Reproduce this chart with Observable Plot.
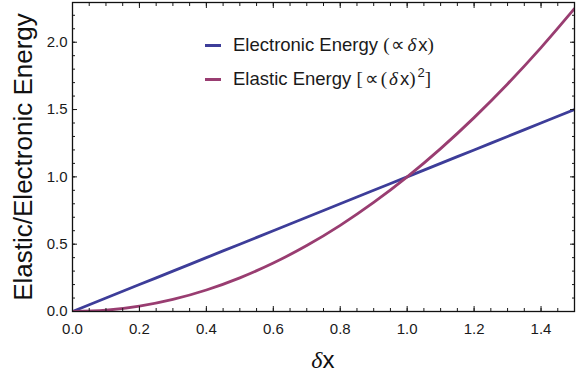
<!DOCTYPE html>
<html><head><meta charset="utf-8">
<script src="https://cdn.jsdelivr.net/npm/d3@7"></script>
<script src="https://cdn.jsdelivr.net/npm/@observablehq/plot@0.6"></script>
<style>
body{margin:0;background:#fff;}
#wrap{position:relative;width:576px;height:382px;font-family:"Liberation Sans",Arial,sans-serif;color:#1a1a1a;}
.sw{position:absolute;left:205px;width:16px;height:3px;}
.lt{position:absolute;left:233px;font-size:18.5px;line-height:18px;white-space:nowrap;}
.ser{font-family:"Liberation Serif","Times New Roman",serif;font-size:19px;letter-spacing:2px;}
.it{font-style:italic;}
</style></head><body><div id="wrap"></div>
<script>
// data
const dx = [0, 0.1, 0.2, 0.3, 0.4, 0.5, 0.6, 0.7, 0.8, 0.9, 1.0, 1.1, 1.2, 1.3, 1.4, 1.5];
const electronic = [0, 0.1, 0.2, 0.3, 0.4, 0.5, 0.6, 0.7, 0.8, 0.9, 1.0, 1.1, 1.2, 1.3, 1.4, 1.5];
const elastic = [0, 0.01, 0.04, 0.09, 0.16, 0.25, 0.36, 0.49, 0.64, 0.81, 1.0, 1.21, 1.44, 1.69, 1.96, 2.25];
const seriesNames = ["Electronic Energy", "Elastic Energy"];
const seriesColors = ["#3d3d99", "#993d71"];
const xMajor = [0, 0.2, 0.4, 0.6, 0.8, 1.0, 1.2, 1.4];
const xMinor = d3.range(0, 31).map(i => i * 0.05);
const yMajor = [0, 0.5, 1.0, 1.5, 2.0];
const yMinor = d3.range(0, 23).map(i => i * 0.1);
const yLabel = "Elastic/Electronic Energy";

const rows = [];
dx.forEach((x, i) => {
  rows.push({x, y: electronic[i], s: seriesNames[0]});
  rows.push({x, y: elastic[i], s: seriesNames[1]});
});

const font = "Liberation Sans, Arial, sans-serif";
const plot = Plot.plot({
  width: 576, height: 382,
  marginTop: 2, marginLeft: 72, marginRight: 2, marginBottom: 71,
  style: {fontFamily: font, color: "#1a1a1a", background: "white", overflow: "visible"},
  x: {domain: [0, 1.5]},
  y: {domain: [0, 2.295]},
  color: {domain: seriesNames, range: seriesColors},
  marks: [
    Plot.line(rows, {x: "x", y: "y", z: "s", stroke: "s", strokeWidth: 2.8, curve: "monotone-x", clip: true}),
    // bottom axis
    Plot.axisX(xMajor, {tickSize: 0, tickPadding: 12, fontSize: 15, tickFormat: d3.format(".1f"), label: null}),
    Plot.axisX(xMinor, {tickSize: -3, fill: "none", label: null}),
    Plot.axisX(xMajor, {tickSize: -5, fill: "none", label: null}),
    Plot.axisX(xMinor, {anchor: "top", tickSize: -3, fill: "none", label: null}),
    Plot.axisX(xMajor, {anchor: "top", tickSize: -5, fill: "none", label: null}),
    // left axis
    Plot.axisY(yMajor, {tickSize: 0, tickPadding: 5, fontSize: 15, tickFormat: d3.format(".1f"), label: null}),
    Plot.axisY(yMinor, {tickSize: -3, fill: "none", label: null}),
    Plot.axisY(yMajor, {tickSize: -5, fill: "none", label: null}),
    Plot.axisY(yMinor, {anchor: "right", tickSize: -3, fill: "none", label: null}),
    Plot.axisY(yMajor, {anchor: "right", tickSize: -5, fill: "none", label: null}),
    Plot.frame({stroke: "#111", strokeWidth: 1.3}),
    Plot.text([yLabel], {text: d => d, frameAnchor: "left", textAnchor: "middle", lineAnchor: "middle", rotate: -90, dx: -49, fontSize: 26, fill: "#111"}),
    Plot.text(["δ"], {text: d => d, frameAnchor: "bottom", textAnchor: "end", dy: 56, dx: -1, fontSize: 24, fontFamily: "Liberation Serif, Times New Roman, serif", fontStyle: "italic", fill: "#111"}),
    Plot.text(["x"], {text: d => d, frameAnchor: "bottom", textAnchor: "start", dy: 56, dx: -1, fontSize: 24, fill: "#111"})
  ]
});
const wrap = document.getElementById("wrap");
wrap.appendChild(plot);

// legend overlay
const legendHTML = [
  `${seriesNames[0]} <span class="ser">(∝<span class="it">δ</span></span>x<span class="ser">)</span>`,
  `${seriesNames[1]} <span class="ser">[∝(<span class="it">δ</span></span>x<span class="ser">)</span><sup style="font-size:13px;vertical-align:8px;line-height:0">2</sup><span class="ser">]</span>`
];
const tops = [35.5, 69.5];
seriesNames.forEach((n, i) => {
  const sw = document.createElement("div");
  sw.className = "sw";
  sw.style.top = (tops[i] + 8) + "px";
  sw.style.background = seriesColors[i];
  wrap.appendChild(sw);
  const t = document.createElement("div");
  t.className = "lt";
  t.style.top = tops[i] + "px";
  t.innerHTML = legendHTML[i];
  wrap.appendChild(t);
});
</script></body></html>
